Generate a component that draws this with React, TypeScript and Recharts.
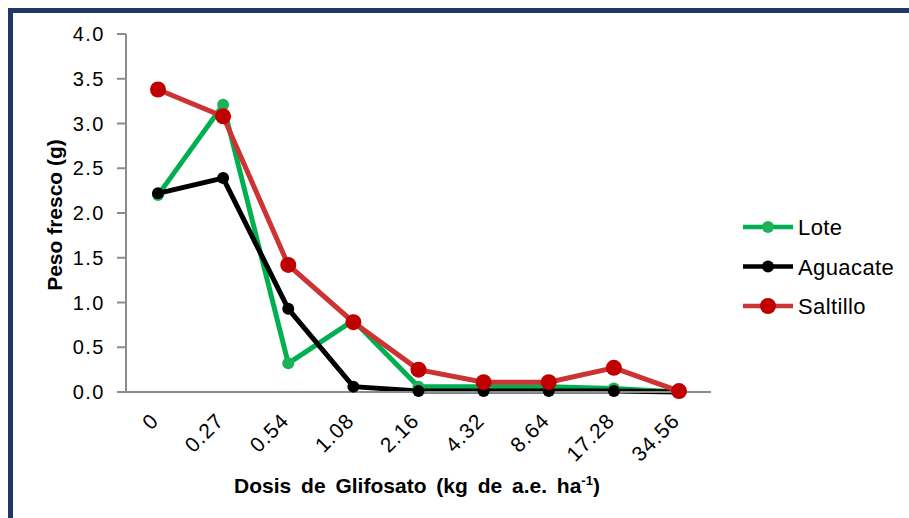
import React from "react";
import { LineChart, XAxis, YAxis, Line, Label } from "recharts";

const doses = ["0", "0.27", "0.54", "1.08", "2.16", "4.32", "8.64", "17.28", "34.56"];
const lote = [2.2, 3.21, 0.32, 0.8, 0.06, 0.06, 0.06, 0.04, 0.0];
const aguacate = [2.22, 2.39, 0.93, 0.06, 0.01, 0.01, 0.01, 0.01, 0.0];
const saltillo = [3.38, 3.08, 1.42, 0.78, 0.25, 0.11, 0.11, 0.27, 0.01];
const yTicks = [0, 0.5, 1, 1.5, 2, 2.5, 3, 3.5, 4];

const data = doses.map((d, i) => ({
  dose: d,
  Lote: lote[i],
  Aguacate: aguacate[i],
  Saltillo: saltillo[i],
}));

const font = "'Liberation Sans', Arial, sans-serif";

const legendItems = [
  { name: "Lote", line: "#00B050", dot: "#1DB25A", r: 6 },
  { name: "Aguacate", line: "#000000", dot: "#000000", r: 6 },
  { name: "Saltillo", line: "#CC3333", dot: "#C00000", r: 8 },
];

function XTick(props: any) {
  const { x, y, payload } = props;
  return (
    <g transform={`translate(${x + 2},${y + 22})`}>
      <text
        x={0}
        y={0}
        textAnchor="end"
        transform="rotate(-45)"
        fontSize={21}
        letterSpacing={1}
        fontFamily={font}
        fill="#000"
      >
        {payload.value}
      </text>
    </g>
  );
}

function LegendBox() {
  return (
    <svg width={165} height={120} style={{ position: "absolute", left: 741, top: 211 }}>
      {legendItems.map((it, i) => {
        const cy = 16 + i * 39.5;
        return (
          <g key={it.name}>
            <line x1={2} x2={52} y1={cy} y2={cy} stroke={it.line} strokeWidth={4.5} />
            <circle cx={27} cy={cy} r={it.r} fill={it.dot} />
            <text x={57} y={cy + 8} fontSize={22} letterSpacing={0.4} fontFamily={font} fill="#000">
              {it.name}
            </text>
          </g>
        );
      })}
    </svg>
  );
}

export default function App() {
  return (
    <div style={{ position: "absolute", left: 0, top: 0, width: 909, height: 518, overflow: "hidden", background: "#fff" }}>
      <div
        style={{
          position: "absolute",
          left: 8,
          top: 8,
          width: 1000,
          height: 700,
          border: "5px solid #1F3864",
          boxSizing: "border-box",
        }}
      />
      <div style={{ position: "absolute", left: 0, top: 0 }}>
        <LineChart width={909} height={518} data={data} margin={{ top: 34, right: 198, left: 66, bottom: 36 }}>
          <XAxis
            dataKey="dose"
            tickLine={false}
            axisLine={{ stroke: "#8C8C8C", strokeWidth: 2 }}
            tick={<XTick />}
            interval={0}
            height={90}
            padding={{ left: 32, right: 32 }}
          >
            <Label
              content={() => (
                <text x={417} y={493} textAnchor="middle" fontSize={21} fontWeight="bold" fontFamily={font} fill="#000" style={{ wordSpacing: 4 }}>
                  Dosis de Glifosato (kg de a.e. ha
                  <tspan fontSize={13} dy={-8}>-1</tspan>
                  <tspan dy={8}>)</tspan>
                </text>
              )}
            />
          </XAxis>
          <YAxis
            width={60}
            domain={[0, 4]}
            ticks={yTicks}
            tickFormatter={(v: number) => v.toFixed(1)}
            axisLine={{ stroke: "#8C8C8C", strokeWidth: 2 }}
            tickLine={{ stroke: "#8C8C8C", strokeWidth: 2 }}
            tickSize={9}
            tickMargin={12}
            tick={{ fontSize: 20, fill: "#000", fontFamily: font, letterSpacing: 1.5 }}
          >
            <Label
              content={() => (
                <text
                  x={62}
                  y={215}
                  textAnchor="middle"
                  transform="rotate(-90, 62, 215)"
                  fontSize={21}
                  fontWeight="bold"
                  fontFamily={font}
                  fill="#000"
                >
                  Peso fresco (g)
                </text>
              )}
            />
          </YAxis>
          <Line
            type="linear"
            dataKey="Lote"
            stroke="#00B050"
            strokeWidth={5}
            dot={{ r: 6, fill: "#1DB25A", stroke: "none" }}
            isAnimationActive={false}
          />
          <Line
            type="linear"
            dataKey="Aguacate"
            stroke="#000000"
            strokeWidth={5}
            dot={{ r: 6, fill: "#000000", stroke: "none" }}
            isAnimationActive={false}
          />
          <Line
            type="linear"
            dataKey="Saltillo"
            stroke="#CC3333"
            strokeWidth={5}
            dot={{ r: 8, fill: "#C00000", stroke: "none" }}
            isAnimationActive={false}
          />
        </LineChart>
      </div>
      <LegendBox />
    </div>
  );
}
